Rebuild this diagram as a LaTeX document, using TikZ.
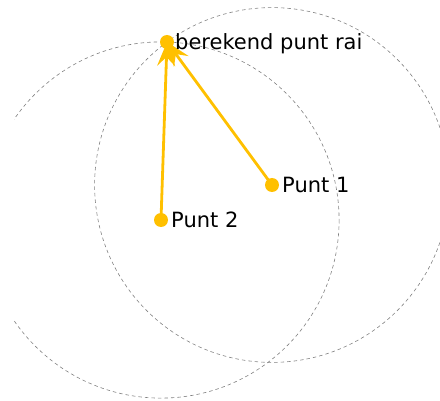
\documentclass[tikz,border=0pt]{standalone}
\usepackage{fontspec}
\setmainfont{DejaVu Sans}
\usetikzlibrary{positioning,arrows.meta}
\definecolor{geoyellow}{RGB}{255,192,0}

\begin{document}
\begin{tikzpicture}[x=1pt,y=-1pt,
  dot/.style={circle,fill=geoyellow,inner sep=0pt,minimum size=14pt},
  lbl/.style={anchor=base west,inner sep=0pt,font=\fontsize{21}{25}\selectfont},
  vec/.style={geoyellow,line width=2.8pt,-{Stealth[length=24pt,width=18pt,inset=9pt]}},
  circ/.style={gray,line width=0.6pt,dash pattern=on 3.5pt off 3pt}]
\useasboundingbox (0,0) rectangle (440,401);
\clip (14,0) rectangle (440,401);

\coordinate (P1) at (272,185);
\coordinate (P2) at (161,220);
\coordinate (R) at (167,42);

% cirkels door het berekende punt
\draw[circ] (P1) circle[radius=177.4];
\draw[circ] (P2) circle[radius=178.1];

\draw[vec] (P2) -- (R);
\draw[vec] (P1) -- (R);

\node[dot] (p1) at (P1) {};
\node[dot] (p2) at (P2) {};
\node[dot] (rai) at (R) {};

\node[lbl] (l1) at ([xshift=10pt,yshift=-7.5pt]p1.center) {Punt 1};
\node[lbl] (l2) at ([xshift=10pt,yshift=-7.5pt]p2.center) {Punt 2};
\node[lbl] (lrai) at ([xshift=8pt,yshift=-7.5pt]rai.center) {berekend punt rai};

\end{tikzpicture}
\end{document}
